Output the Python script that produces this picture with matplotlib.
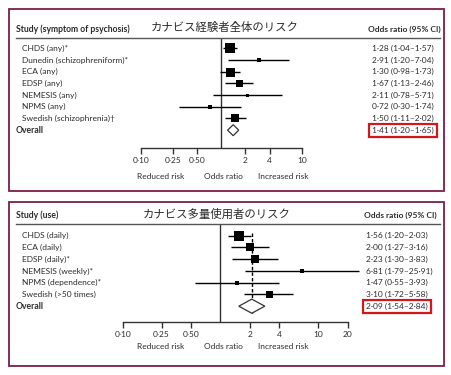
import matplotlib
matplotlib.use("Agg")
import matplotlib.pyplot as plt
from matplotlib.patches import Rectangle, Polygon
from matplotlib.transforms import blended_transform_factory
import numpy as np

# ---------------- data ----------------
top_title = "カナビス経験者全体のリスク"
top_header = "Study (symptom of psychosis)"
top_studies = ["CHDS (any)*", "Dunedin (schizophreniform)*", "ECA (any)", "EDSP (any)",
               "NEMESIS (any)", "NPMS (any)", "Swedish (schizophrenia)\u2020"]
top_or = [1.28, 2.91, 1.30, 1.67, 2.11, 0.72, 1.50]
top_lo = [1.04, 1.20, 0.98, 1.13, 0.78, 0.30, 1.11]
top_hi = [1.57, 7.04, 1.73, 2.46, 5.71, 1.74, 2.02]
top_overall = (1.41, 1.20, 1.65)
top_ticks = [0.10, 0.25, 0.50, 2, 4, 10]
top_ticklabels = ["0·10", "0·25", "0·50", "2", "4", "10"]
top_xlim = (0.1, 10)

bot_title = "カナビス多量使用者のリスク"
bot_header = "Study (use)"
bot_studies = ["CHDS (daily)", "ECA (daily)", "EDSP (daily)*", "NEMESIS (weekly)*",
               "NPMS (dependence)*", "Swedish (>50 times)"]
bot_or = [1.56, 2.00, 2.23, 6.81, 1.47, 3.10]
bot_lo = [1.20, 1.27, 1.30, 1.79, 0.55, 1.72]
bot_hi = [2.03, 3.16, 3.83, 25.91, 3.93, 5.58]
bot_overall = (2.09, 1.54, 2.84)
bot_ticks = [0.10, 0.25, 0.50, 2, 4, 10, 20]
bot_ticklabels = ["0·10", "0·25", "0·50", "2", "4", "10", "20"]
bot_xlim = (0.1, 20)

# marker sizes (px) reflecting study weight
top_msize = [10, 3.5, 9, 7, 3, 5, 8]
bot_msize = [10, 8, 8, 5, 4, 7]

# ---------------- style ----------------
W, H = 452, 375
DPI = 100
FRAME = "#7a1f48"
RED = "#d7161c"
TXT = "#2b2b2b"
LAT = ["Lato", "DejaVu Sans"]
CJK = ["Noto Sans CJK JP", "DejaVu Sans"]
plt.rcParams["font.family"] = LAT

fig = plt.figure(figsize=(W / DPI, H / DPI), dpi=DPI)
fig.patch.set_facecolor("white")


def fx(x):
    return x / W


def fy(y):
    return 1 - y / H


def ax_rect(left, right, top, bottom):
    return [fx(left), fy(bottom), fx(right) - fx(left), fy(top) - fy(bottom)]


def fmt(v):
    return f"{v:.2f}".replace(".", "·")


def draw_panel(box, axbox, rows_y0, row_h, studies, ors, los, his, overall,
               ticks, ticklabels, xlim, msizes, title, title_x, header,
               head_y, line_y, val_x, or_head_x, tick_label_y, bottom_label_y,
               diamond_h, dashed):
    # outer frame
    bx0, by0, bx1, by1 = box
    fig.add_artist(Rectangle((fx(bx0), fy(by1)), fx(bx1) - fx(bx0), fy(by0) - fy(by1),
                             transform=fig.transFigure, fill=False, ec=FRAME, lw=1.3))
    # header texts
    fig.text(fx(16), fy(head_y), header, fontsize=6.2, fontweight="bold", color=TXT,
             va="center", ha="left")
    fig.text(fx(title_x), fy(head_y - 1), title, fontsize=8.2, family=CJK, color=TXT,
             va="center", ha="center")
    fig.text(fx(or_head_x), fy(head_y), "Odds ratio (95% CI)", fontsize=6.0,
             fontweight="bold", color=TXT, va="center", ha="left")
    fig.add_artist(plt.Line2D([fx(16), fx(440)], [fy(line_y), fy(line_y)],
                              transform=fig.transFigure, color="#555555", lw=1.0))

    left, right, top, bottom = axbox
    ax = fig.add_axes(ax_rect(left, right, top, bottom))
    n = len(studies)
    ytop = (top - rows_y0) / row_h
    ybot = (bottom - rows_y0) / row_h
    ax.set_xscale("log")
    ax.set_xlim(*xlim)
    ax.set_ylim(ybot, ytop)
    ax.patch.set_alpha(0)
    for s in ["top", "right", "left"]:
        ax.spines[s].set_visible(False)
    ax.spines["bottom"].set_color("#333333")
    ax.spines["bottom"].set_linewidth(1.0)
    ax.set_yticks([])
    ax.set_xticks(ticks)
    ax.set_xticklabels(ticklabels)
    ax.xaxis.set_minor_locator(matplotlib.ticker.NullLocator())
    ax.tick_params(axis="x", direction="out", length=4, width=1.0, color="#333333",
                   labelsize=6.0, labelcolor=TXT, pad=2.5)
    ax.axvline(1, color="#333333", lw=1.0, zorder=1)

    rows = np.arange(n)
    for i in rows:
        ax.plot([los[i], his[i]], [i, i], color="black", lw=1.0, zorder=2,
                clip_on=False, solid_capstyle="butt")
        ax.plot([ors[i]], [i], marker="s", ms=msizes[i] * 0.72, color="black",
                mec="black", mew=0, zorder=3, clip_on=False)
    est, lo, hi = overall
    yo = n
    ax.add_patch(Polygon([(lo, yo), (est, yo - diamond_h), (hi, yo), (est, yo + diamond_h)],
                         closed=True, fc="white", ec="#333333", lw=0.9, zorder=4))
    if dashed:
        ax.plot([est, est], [-0.25, yo + diamond_h], color="black", lw=1.0,
                ls=(0, (2.5, 1.5)), zorder=3)

    tr = blended_transform_factory(fig.transFigure, ax.transData)
    for i in rows:
        fig.text(fx(22), i, studies[i], transform=tr, fontsize=6.0, color=TXT,
                 va="center", ha="left")
        fig.text(fx(val_x), i, f"{fmt(ors[i])} ({fmt(los[i])}–{fmt(his[i])})",
                 transform=tr, fontsize=6.0, color=TXT, va="center", ha="left")
    fig.text(fx(16), yo, "Overall", transform=tr, fontsize=6.2, fontweight="bold",
             color=TXT, va="center", ha="left")
    fig.text(fx(val_x), yo, f"{fmt(est)} ({fmt(lo)}–{fmt(hi)})", transform=tr,
             fontsize=6.0, color=TXT, va="center", ha="left",
             bbox=dict(boxstyle="square,pad=0.35", fc="white", ec=RED, lw=1.6))

    fig.text(fx(161), fy(bottom_label_y), "Reduced risk", fontsize=6.0, color=TXT,
             ha="center", va="center")
    fig.text(fx(223.5), fy(bottom_label_y), "Odds ratio", fontsize=6.0, color=TXT,
             ha="center", va="center")
    fig.text(fx(283.5), fy(bottom_label_y), "Increased risk", fontsize=6.0, color=TXT,
             ha="center", va="center")
    return ax


draw_panel(box=(9, 9, 444, 191), axbox=(140.7, 301.7, 38, 148.3),
           rows_y0=48.3, row_h=11.7, studies=top_studies, ors=top_or, los=top_lo,
           his=top_hi, overall=top_overall, ticks=top_ticks, ticklabels=top_ticklabels,
           xlim=top_xlim, msizes=top_msize, title=top_title, title_x=225,
           header=top_header, head_y=29, line_y=37.7, val_x=372, or_head_x=368,
           tick_label_y=160, bottom_label_y=176, diamond_h=0.47, dashed=False)

draw_panel(box=(9, 201.7, 444, 366), axbox=(122.7, 347.7, 224, 322.3),
           rows_y0=235.7, row_h=11.75, studies=bot_studies, ors=bot_or, los=bot_lo,
           his=bot_hi, overall=bot_overall, ticks=bot_ticks, ticklabels=bot_ticklabels,
           xlim=bot_xlim, msizes=bot_msize, title=bot_title, title_x=217,
           header=bot_header, head_y=215, line_y=224, val_x=366, or_head_x=364,
           tick_label_y=333, bottom_label_y=346.7, diamond_h=0.6, dashed=True)

fig.savefig("out.png", dpi=DPI, facecolor="white")
